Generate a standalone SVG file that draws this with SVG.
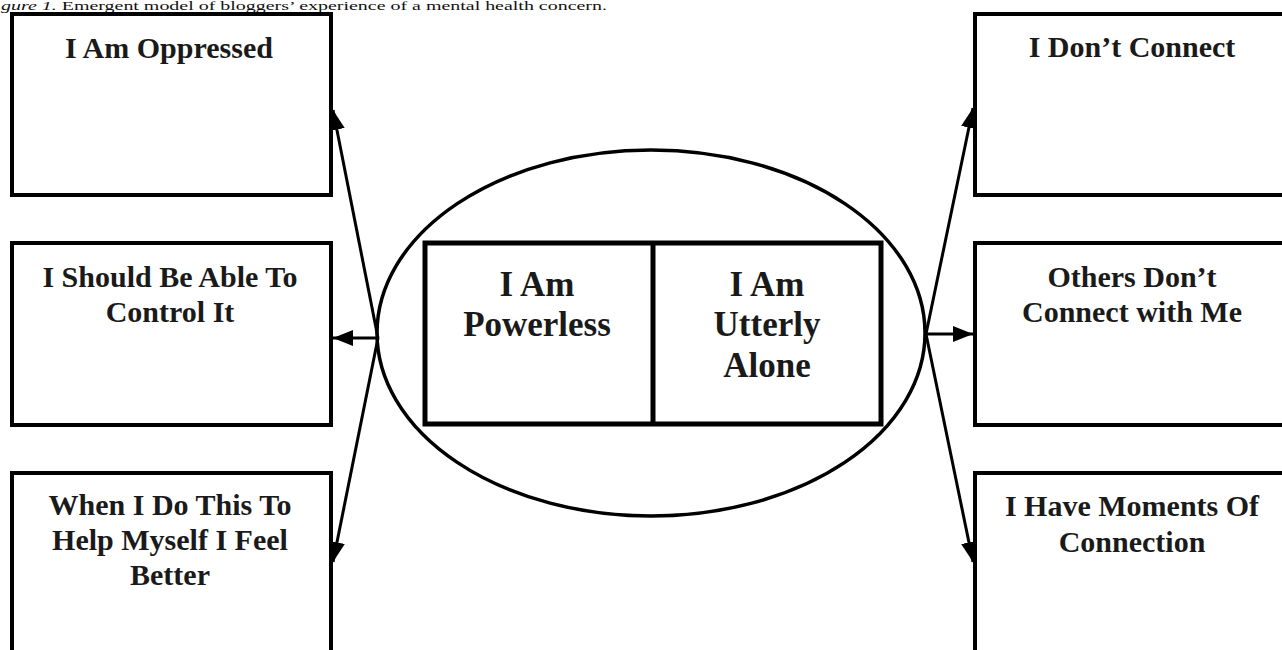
<svg xmlns="http://www.w3.org/2000/svg" width="1282" height="650" viewBox="0 0 1282 650">
<style>
.box{fill:#fff;stroke:#000;stroke-width:4}
.t{font-family:"Liberation Serif","Times New Roman",serif;font-weight:bold;font-size:30px;fill:#1a1a1a;text-anchor:middle}
.c{font-size:35px}
.conn{stroke:#000;stroke-width:3;fill:none;marker-end:url(#ah)}
.cap{font-family:"Liberation Serif","Times New Roman",serif;font-size:12.5px;fill:#111}
</style>
<defs>
<marker id="ah" markerUnits="userSpaceOnUse" markerWidth="22" markerHeight="18" refX="20" refY="8" orient="auto">
<path d="M0,0 L20,8 L0,16 Z" fill="#000"/>
</marker>
</defs>
<rect width="1282" height="650" fill="#fff"/>
<text class="cap" x="1" y="9.5" textLength="606" lengthAdjust="spacingAndGlyphs"><tspan font-style="italic">gure 1.</tspan> Emergent model of bloggers’ experience of a mental health concern.</text>

<g id="oppressed"><rect class="box" x="12" y="14" width="319" height="181"/><text class="t" x="169" y="58">I Am Oppressed</text></g>
<g id="control"><rect class="box" x="12" y="243" width="319" height="182"/><text class="t" x="170" y="287">I Should Be Able To</text><text class="t" x="170" y="322">Control It</text></g>
<g id="helpmyself"><rect class="box" x="12" y="473" width="319" height="200"/><text class="t" x="170" y="515">When I Do This To</text><text class="t" x="170" y="550">Help Myself I Feel</text><text class="t" x="170" y="585">Better</text></g>

<g id="dontconnect"><rect class="box" x="975" y="14" width="320" height="181"/><text class="t" x="1132" y="57">I Don’t Connect</text></g>
<g id="othersdont"><rect class="box" x="975" y="243" width="320" height="182"/><text class="t" x="1132" y="287">Others Don’t</text><text class="t" x="1132" y="322">Connect with Me</text></g>
<g id="moments"><rect class="box" x="975" y="473" width="320" height="200"/><text class="t" x="1132" y="516">I Have Moments Of</text><text class="t" x="1132" y="552">Connection</text></g>

<g id="core">
<ellipse cx="651" cy="333" rx="274" ry="183" fill="#fff" stroke="#000" stroke-width="3.5"/>
<rect x="425" y="243" width="456" height="181" fill="none" stroke="#000" stroke-width="5"/>
<line x1="653" y1="243" x2="653" y2="424" stroke="#000" stroke-width="5"/>
<text class="t c" x="537" y="296">I Am</text><text class="t c" x="537" y="336">Powerless</text>
<text class="t c" x="767" y="296">I Am</text><text class="t c" x="767" y="336">Utterly</text><text class="t c" x="767" y="377">Alone</text>
</g>

<g id="connectors">
<line class="conn" x1="378" y1="338" x2="333" y2="110"/>
<line class="conn" x1="378" y1="338" x2="333" y2="338"/>
<line class="conn" x1="378" y1="338" x2="333" y2="562"/>
<line class="conn" x1="926" y1="334" x2="973" y2="108"/>
<line class="conn" x1="926" y1="334" x2="973" y2="334"/>
<line class="conn" x1="926" y1="334" x2="973" y2="562"/>
</g>
</svg>
